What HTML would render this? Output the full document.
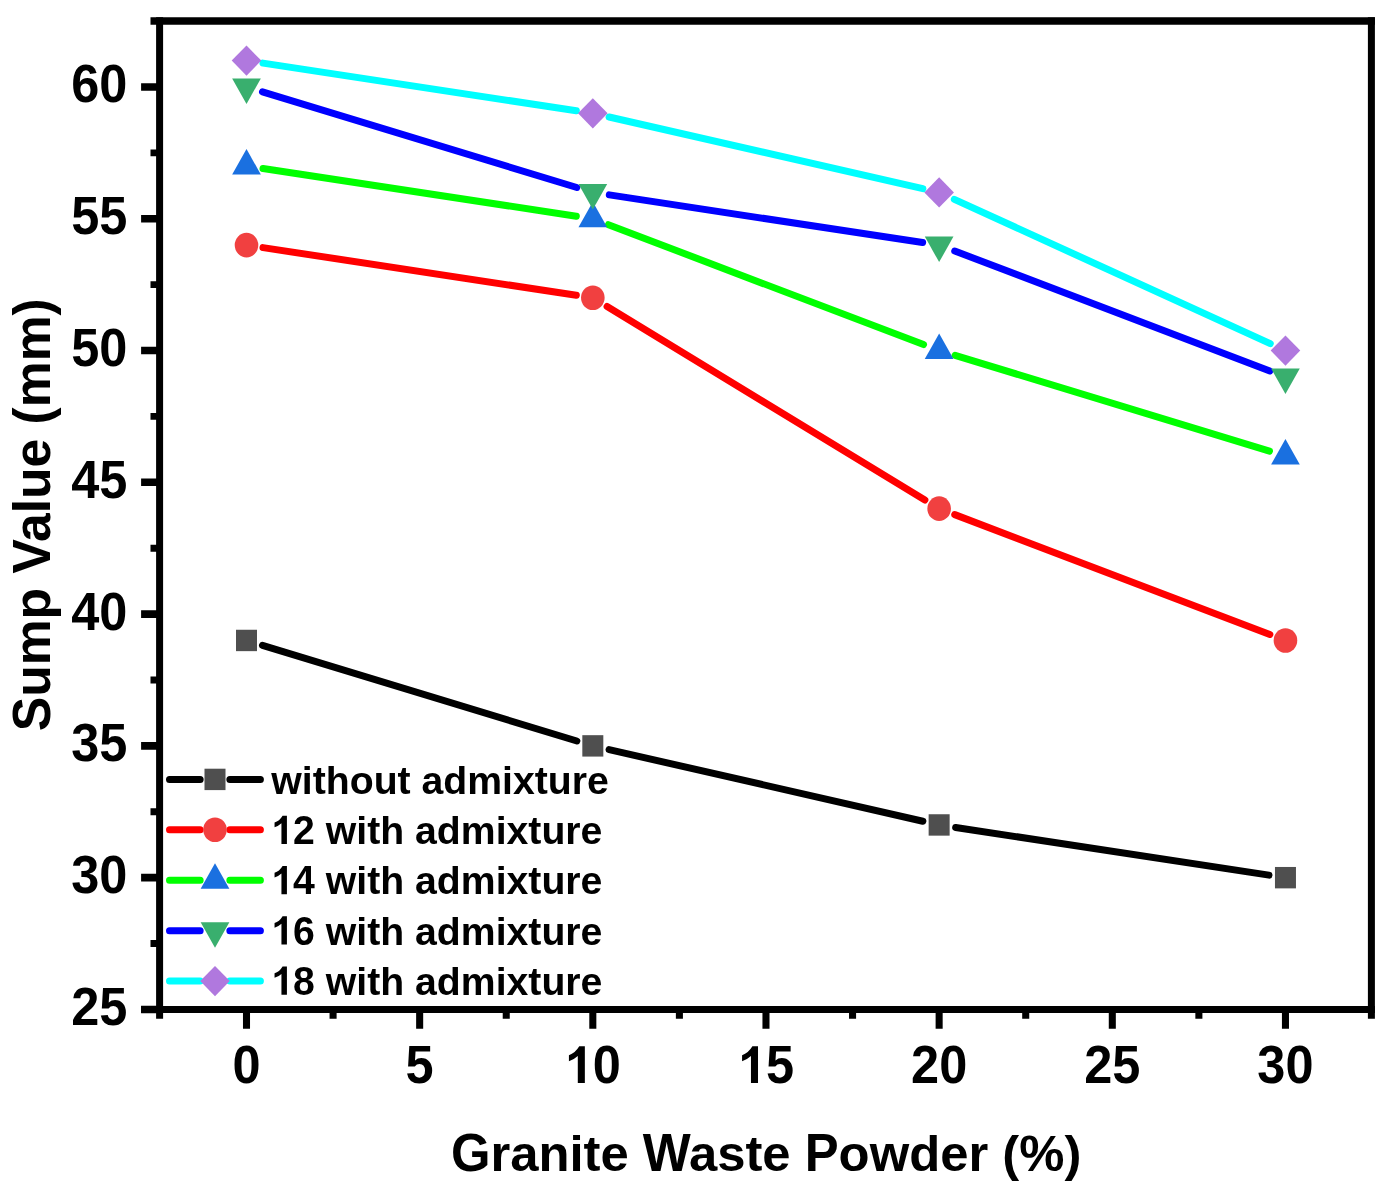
<!DOCTYPE html>
<html><head><meta charset="utf-8"><title>Sump Value chart</title>
<style>html,body{margin:0;padding:0;background:#fff;width:1400px;height:1202px;overflow:hidden;font-family:"Liberation Sans",sans-serif;}</style>
</head><body>
<svg width="1400" height="1202" viewBox="0 0 1400 1202" style="display:block;will-change:transform">
<rect width="1400" height="1202" fill="#fff"/>
<path d="M262.48 645.32L576.84 741.02M609.10 749.60L922.86 821.23M955.65 827.46L1268.95 875.15" stroke="#000000" stroke-width="7.0" stroke-linecap="round" fill="none"/>
<path d="M263.01 247.61L576.31 295.30M607.08 306.50L924.88 499.98M954.75 514.61L1269.85 634.51" stroke="#FF0000" stroke-width="7.0" stroke-linecap="round" fill="none"/>
<path d="M263.01 168.54L576.31 216.23M608.43 224.68L923.53 344.59M955.12 355.39L1269.48 451.09" stroke="#00FF00" stroke-width="7.0" stroke-linecap="round" fill="none"/>
<path d="M262.48 91.82L576.84 187.52M609.33 194.90L922.63 242.58M954.75 251.04L1269.85 370.94" stroke="#0000FF" stroke-width="7.0" stroke-linecap="round" fill="none"/>
<path d="M263.01 63.11L576.31 110.80M609.10 117.03L922.86 188.67M954.33 199.32L1270.27 343.59" stroke="#00FFFF" stroke-width="7.0" stroke-linecap="round" fill="none"/>
<rect x="236.00" y="629.75" width="21.0" height="21.4" fill="#4F4F4F"/>
<rect x="582.32" y="735.18" width="21.0" height="21.4" fill="#4F4F4F"/>
<rect x="928.64" y="814.25" width="21.0" height="21.4" fill="#4F4F4F"/>
<rect x="1274.96" y="866.97" width="21.0" height="21.4" fill="#4F4F4F"/>
<ellipse cx="246.50" cy="245.10" rx="11.8" ry="12.3" fill="#F14040"/>
<ellipse cx="592.82" cy="297.81" rx="11.8" ry="12.3" fill="#F14040"/>
<ellipse cx="939.14" cy="508.67" rx="11.8" ry="12.3" fill="#F14040"/>
<ellipse cx="1285.46" cy="640.45" rx="11.8" ry="12.3" fill="#F14040"/>
<path d="M246.50 149.03L260.85 174.53L232.15 174.53Z" fill="#1A70E0"/>
<path d="M592.82 201.74L607.17 227.24L578.47 227.24Z" fill="#1A70E0"/>
<path d="M939.14 333.53L953.49 359.03L924.79 359.03Z" fill="#1A70E0"/>
<path d="M1285.46 438.95L1299.81 464.45L1271.11 464.45Z" fill="#1A70E0"/>
<path d="M232.15 78.46L260.85 78.46L246.50 103.96Z" fill="#39AF6E"/>
<path d="M578.47 183.88L607.17 183.88L592.82 209.38Z" fill="#39AF6E"/>
<path d="M924.79 236.60L953.49 236.60L939.14 262.10Z" fill="#39AF6E"/>
<path d="M1271.11 368.38L1299.81 368.38L1285.46 393.88Z" fill="#39AF6E"/>
<path d="M246.50 45.50L261.30 60.60L246.50 75.70L231.70 60.60Z" fill="#B078DE"/>
<path d="M592.82 98.21L607.62 113.31L592.82 128.41L578.02 113.31Z" fill="#B078DE"/>
<path d="M939.14 177.28L953.94 192.38L939.14 207.48L924.34 192.38Z" fill="#B078DE"/>
<path d="M1285.46 335.43L1300.26 350.53L1285.46 365.63L1270.66 350.53Z" fill="#B078DE"/>
<g font-family="'Liberation Sans', sans-serif" font-weight="bold" fill="#000">
<path d="M169.5 779.40H200.15M229.85 779.40H260.4" stroke="#000000" stroke-width="7.0" stroke-linecap="round"/>
<rect x="204.50" y="768.70" width="21.0" height="21.4" fill="#4F4F4F"/>
<text transform="translate(271.30,793.90) translate(0.00,0)" font-size="39.2">w</text>
<text transform="translate(271.30,793.90) translate(30.49,0)" font-size="39.2">i</text>
<text transform="translate(271.30,793.90) translate(41.38,0)" font-size="39.2">t</text>
<text transform="translate(271.30,793.90) translate(54.44,0)" font-size="39.2">h</text>
<text transform="translate(271.30,793.90) translate(78.38,0)" font-size="39.2">o</text>
<text transform="translate(271.30,793.90) translate(102.33,0)" font-size="39.2">u</text>
<text transform="translate(271.30,793.90) translate(126.27,0)" font-size="39.2">t</text>
<text transform="translate(271.30,793.90) translate(150.22,0)" font-size="39.2">a</text>
<text transform="translate(271.30,793.90) translate(172.02,0)" font-size="39.2">d</text>
<text transform="translate(271.30,793.90) translate(195.96,0)" font-size="39.2">m</text>
<text transform="translate(271.30,793.90) translate(230.82,0)" font-size="39.2">i</text>
<text transform="translate(271.30,793.90) translate(241.71,0)" font-size="39.2">x</text>
<text transform="translate(271.30,793.90) translate(263.51,0)" font-size="39.2">t</text>
<text transform="translate(271.30,793.90) translate(276.56,0)" font-size="39.2">u</text>
<text transform="translate(271.30,793.90) translate(300.51,0)" font-size="39.2">r</text>
<text transform="translate(271.30,793.90) translate(315.76,0)" font-size="39.2">e</text>
<path d="M169.5 829.82H200.15M229.85 829.82H260.4" stroke="#FF0000" stroke-width="7.0" stroke-linecap="round"/>
<ellipse cx="215.00" cy="829.82" rx="11.8" ry="12.3" fill="#F14040"/>
<path transform="translate(271.30,844.10) translate(0.00,0) scale(0.019141,-0.020098)" d="M816 0L816 1409L589 1409Q420 1140 170 1069L170 838Q380 900 530 1035L530 0Z"/>
<text transform="translate(271.30,844.10) translate(21.80,0) scale(1,1.05)" font-size="39.2">2</text>
<text transform="translate(271.30,844.10) translate(54.49,0)" font-size="39.2">w</text>
<text transform="translate(271.30,844.10) translate(84.98,0)" font-size="39.2">i</text>
<text transform="translate(271.30,844.10) translate(95.88,0)" font-size="39.2">t</text>
<text transform="translate(271.30,844.10) translate(108.93,0)" font-size="39.2">h</text>
<text transform="translate(271.30,844.10) translate(143.77,0)" font-size="39.2">a</text>
<text transform="translate(271.30,844.10) translate(165.57,0)" font-size="39.2">d</text>
<text transform="translate(271.30,844.10) translate(189.51,0)" font-size="39.2">m</text>
<text transform="translate(271.30,844.10) translate(224.37,0)" font-size="39.2">i</text>
<text transform="translate(271.30,844.10) translate(235.26,0)" font-size="39.2">x</text>
<text transform="translate(271.30,844.10) translate(257.06,0)" font-size="39.2">t</text>
<text transform="translate(271.30,844.10) translate(270.11,0)" font-size="39.2">u</text>
<text transform="translate(271.30,844.10) translate(294.06,0)" font-size="39.2">r</text>
<text transform="translate(271.30,844.10) translate(309.31,0)" font-size="39.2">e</text>
<path d="M169.5 880.24H200.15M229.85 880.24H260.4" stroke="#00FF00" stroke-width="7.0" stroke-linecap="round"/>
<path d="M215.00 863.24L229.35 888.74L200.65 888.74Z" fill="#1A70E0"/>
<path transform="translate(271.30,894.30) translate(0.00,0) scale(0.019141,-0.020098)" d="M816 0L816 1409L589 1409Q420 1140 170 1069L170 838Q380 900 530 1035L530 0Z"/>
<text transform="translate(271.30,894.30) translate(21.80,0) scale(1,1.05)" font-size="39.2">4</text>
<text transform="translate(271.30,894.30) translate(54.49,0)" font-size="39.2">w</text>
<text transform="translate(271.30,894.30) translate(84.98,0)" font-size="39.2">i</text>
<text transform="translate(271.30,894.30) translate(95.88,0)" font-size="39.2">t</text>
<text transform="translate(271.30,894.30) translate(108.93,0)" font-size="39.2">h</text>
<text transform="translate(271.30,894.30) translate(143.77,0)" font-size="39.2">a</text>
<text transform="translate(271.30,894.30) translate(165.57,0)" font-size="39.2">d</text>
<text transform="translate(271.30,894.30) translate(189.51,0)" font-size="39.2">m</text>
<text transform="translate(271.30,894.30) translate(224.37,0)" font-size="39.2">i</text>
<text transform="translate(271.30,894.30) translate(235.26,0)" font-size="39.2">x</text>
<text transform="translate(271.30,894.30) translate(257.06,0)" font-size="39.2">t</text>
<text transform="translate(271.30,894.30) translate(270.11,0)" font-size="39.2">u</text>
<text transform="translate(271.30,894.30) translate(294.06,0)" font-size="39.2">r</text>
<text transform="translate(271.30,894.30) translate(309.31,0)" font-size="39.2">e</text>
<path d="M169.5 930.66H200.15M229.85 930.66H260.4" stroke="#0000FF" stroke-width="7.0" stroke-linecap="round"/>
<path d="M200.65 922.16L229.35 922.16L215.00 947.66Z" fill="#39AF6E"/>
<path transform="translate(271.30,944.50) translate(0.00,0) scale(0.019141,-0.020098)" d="M816 0L816 1409L589 1409Q420 1140 170 1069L170 838Q380 900 530 1035L530 0Z"/>
<text transform="translate(271.30,944.50) translate(21.80,0) scale(1,1.05)" font-size="39.2">6</text>
<text transform="translate(271.30,944.50) translate(54.49,0)" font-size="39.2">w</text>
<text transform="translate(271.30,944.50) translate(84.98,0)" font-size="39.2">i</text>
<text transform="translate(271.30,944.50) translate(95.88,0)" font-size="39.2">t</text>
<text transform="translate(271.30,944.50) translate(108.93,0)" font-size="39.2">h</text>
<text transform="translate(271.30,944.50) translate(143.77,0)" font-size="39.2">a</text>
<text transform="translate(271.30,944.50) translate(165.57,0)" font-size="39.2">d</text>
<text transform="translate(271.30,944.50) translate(189.51,0)" font-size="39.2">m</text>
<text transform="translate(271.30,944.50) translate(224.37,0)" font-size="39.2">i</text>
<text transform="translate(271.30,944.50) translate(235.26,0)" font-size="39.2">x</text>
<text transform="translate(271.30,944.50) translate(257.06,0)" font-size="39.2">t</text>
<text transform="translate(271.30,944.50) translate(270.11,0)" font-size="39.2">u</text>
<text transform="translate(271.30,944.50) translate(294.06,0)" font-size="39.2">r</text>
<text transform="translate(271.30,944.50) translate(309.31,0)" font-size="39.2">e</text>
<path d="M169.5 981.08H200.15M229.85 981.08H260.4" stroke="#00FFFF" stroke-width="7.0" stroke-linecap="round"/>
<path d="M215.00 965.98L229.80 981.08L215.00 996.18L200.20 981.08Z" fill="#B078DE"/>
<path transform="translate(271.30,994.70) translate(0.00,0) scale(0.019141,-0.020098)" d="M816 0L816 1409L589 1409Q420 1140 170 1069L170 838Q380 900 530 1035L530 0Z"/>
<text transform="translate(271.30,994.70) translate(21.80,0) scale(1,1.05)" font-size="39.2">8</text>
<text transform="translate(271.30,994.70) translate(54.49,0)" font-size="39.2">w</text>
<text transform="translate(271.30,994.70) translate(84.98,0)" font-size="39.2">i</text>
<text transform="translate(271.30,994.70) translate(95.88,0)" font-size="39.2">t</text>
<text transform="translate(271.30,994.70) translate(108.93,0)" font-size="39.2">h</text>
<text transform="translate(271.30,994.70) translate(143.77,0)" font-size="39.2">a</text>
<text transform="translate(271.30,994.70) translate(165.57,0)" font-size="39.2">d</text>
<text transform="translate(271.30,994.70) translate(189.51,0)" font-size="39.2">m</text>
<text transform="translate(271.30,994.70) translate(224.37,0)" font-size="39.2">i</text>
<text transform="translate(271.30,994.70) translate(235.26,0)" font-size="39.2">x</text>
<text transform="translate(271.30,994.70) translate(257.06,0)" font-size="39.2">t</text>
<text transform="translate(271.30,994.70) translate(270.11,0)" font-size="39.2">u</text>
<text transform="translate(271.30,994.70) translate(294.06,0)" font-size="39.2">r</text>
<text transform="translate(271.30,994.70) translate(309.31,0)" font-size="39.2">e</text>
</g>
<path d="M150.5 21.0H1374.9" stroke="#000" stroke-width="7.6"/>
<path d="M141.1 1009.45H1374.9" stroke="#000" stroke-width="7.0"/>
<path d="M159.6 17.2V1018.7M1371.4 17.2V1018.7" stroke="#000" stroke-width="7.0"/>
<path d="M141.1 1009.45H159.6M141.1 877.67H159.6M141.1 745.88H159.6M141.1 614.10H159.6M141.1 482.31H159.6M141.1 350.53H159.6M141.1 218.74H159.6M141.1 86.96H159.6" stroke="#000" stroke-width="7.6"/>
<path d="M150.5 943.56H159.6M150.5 811.77H159.6M150.5 679.99H159.6M150.5 548.20H159.6M150.5 416.42H159.6M150.5 284.63H159.6M150.5 152.85H159.6" stroke="#000" stroke-width="6.9"/>
<path d="M246.50 1009.45V1028.8M333.08 1009.45V1018.7M419.66 1009.45V1028.8M506.24 1009.45V1018.7M592.82 1009.45V1028.8M679.40 1009.45V1018.7M765.98 1009.45V1028.8M852.56 1009.45V1018.7M939.14 1009.45V1028.8M1025.72 1009.45V1018.7M1112.30 1009.45V1028.8M1198.88 1009.45V1018.7M1285.46 1009.45V1028.8" stroke="#000" stroke-width="7.05"/>
<g font-family="'Liberation Sans', sans-serif" font-weight="bold" fill="#000">
<text transform="translate(127.30,1024.85) translate(-56.17,0) scale(1,1.055)" font-size="50.5">2</text>
<text transform="translate(127.30,1024.85) translate(-28.09,0) scale(1,1.055)" font-size="50.5">5</text>
<text transform="translate(127.30,893.07) translate(-56.17,0) scale(1,1.055)" font-size="50.5">3</text>
<text transform="translate(127.30,893.07) translate(-28.09,0) scale(1,1.055)" font-size="50.5">0</text>
<text transform="translate(127.30,761.28) translate(-56.17,0) scale(1,1.055)" font-size="50.5">3</text>
<text transform="translate(127.30,761.28) translate(-28.09,0) scale(1,1.055)" font-size="50.5">5</text>
<text transform="translate(127.30,629.50) translate(-56.17,0) scale(1,1.055)" font-size="50.5">4</text>
<text transform="translate(127.30,629.50) translate(-28.09,0) scale(1,1.055)" font-size="50.5">0</text>
<text transform="translate(127.30,497.71) translate(-56.17,0) scale(1,1.055)" font-size="50.5">4</text>
<text transform="translate(127.30,497.71) translate(-28.09,0) scale(1,1.055)" font-size="50.5">5</text>
<text transform="translate(127.30,365.93) translate(-56.17,0) scale(1,1.055)" font-size="50.5">5</text>
<text transform="translate(127.30,365.93) translate(-28.09,0) scale(1,1.055)" font-size="50.5">0</text>
<text transform="translate(127.30,234.14) translate(-56.17,0) scale(1,1.055)" font-size="50.5">5</text>
<text transform="translate(127.30,234.14) translate(-28.09,0) scale(1,1.055)" font-size="50.5">5</text>
<text transform="translate(127.30,102.36) translate(-56.17,0) scale(1,1.055)" font-size="50.5">6</text>
<text transform="translate(127.30,102.36) translate(-28.09,0) scale(1,1.055)" font-size="50.5">0</text>
<text transform="translate(246.50,1083.00) translate(-14.04,0) scale(1,1.055)" font-size="50.5">0</text>
<text transform="translate(419.66,1083.00) translate(-14.04,0) scale(1,1.055)" font-size="50.5">5</text>
<path transform="translate(592.82,1083.00) translate(-28.09,0) scale(0.024658,-0.026014)" d="M816 0L816 1409L589 1409Q420 1140 170 1069L170 838Q380 900 530 1035L530 0Z"/>
<text transform="translate(592.82,1083.00) translate(0.00,0) scale(1,1.055)" font-size="50.5">0</text>
<path transform="translate(765.98,1083.00) translate(-28.09,0) scale(0.024658,-0.026014)" d="M816 0L816 1409L589 1409Q420 1140 170 1069L170 838Q380 900 530 1035L530 0Z"/>
<text transform="translate(765.98,1083.00) translate(0.00,0) scale(1,1.055)" font-size="50.5">5</text>
<text transform="translate(939.14,1083.00) translate(-28.09,0) scale(1,1.055)" font-size="50.5">2</text>
<text transform="translate(939.14,1083.00) translate(0.00,0) scale(1,1.055)" font-size="50.5">0</text>
<text transform="translate(1112.30,1083.00) translate(-28.09,0) scale(1,1.055)" font-size="50.5">2</text>
<text transform="translate(1112.30,1083.00) translate(0.00,0) scale(1,1.055)" font-size="50.5">5</text>
<text transform="translate(1285.46,1083.00) translate(-28.09,0) scale(1,1.055)" font-size="50.5">3</text>
<text transform="translate(1285.46,1083.00) translate(0.00,0) scale(1,1.055)" font-size="50.5">0</text>
<text transform="translate(450.90,1170.50) translate(0.00,0) scale(1,1.04)" font-size="50.8">G</text>
<text transform="translate(450.90,1170.50) translate(39.51,0)" font-size="50.8">r</text>
<text transform="translate(450.90,1170.50) translate(59.28,0)" font-size="50.8">a</text>
<text transform="translate(450.90,1170.50) translate(87.54,0)" font-size="50.8">n</text>
<text transform="translate(450.90,1170.50) translate(118.57,0)" font-size="50.8">i</text>
<text transform="translate(450.90,1170.50) translate(132.68,0)" font-size="50.8">t</text>
<text transform="translate(450.90,1170.50) translate(149.60,0)" font-size="50.8">e</text>
<text transform="translate(450.90,1170.50) translate(191.96,0) scale(1,1.04)" font-size="50.8">W</text>
<text transform="translate(450.90,1170.50) translate(238.03,0)" font-size="50.8">a</text>
<text transform="translate(450.90,1170.50) translate(266.28,0)" font-size="50.8">s</text>
<text transform="translate(450.90,1170.50) translate(294.53,0)" font-size="50.8">t</text>
<text transform="translate(450.90,1170.50) translate(311.45,0)" font-size="50.8">e</text>
<text transform="translate(450.90,1170.50) translate(353.81,0) scale(1,1.04)" font-size="50.8">P</text>
<text transform="translate(450.90,1170.50) translate(387.70,0)" font-size="50.8">o</text>
<text transform="translate(450.90,1170.50) translate(418.73,0)" font-size="50.8">w</text>
<text transform="translate(450.90,1170.50) translate(458.24,0)" font-size="50.8">d</text>
<text transform="translate(450.90,1170.50) translate(489.27,0)" font-size="50.8">e</text>
<text transform="translate(450.90,1170.50) translate(517.52,0)" font-size="50.8">r</text>
<text transform="translate(450.90,1170.50) translate(551.41,0)" font-size="50.8">(</text>
<text transform="translate(450.90,1170.50) translate(568.32,0)" font-size="50.8">%</text>
<text transform="translate(450.90,1170.50) translate(613.49,0)" font-size="50.8">)</text>
<text transform="translate(50.10,731.25) rotate(-90) translate(0.00,0) scale(1,1.04)" font-size="51.6">S</text>
<text transform="translate(50.10,731.25) rotate(-90) translate(34.42,0)" font-size="51.6">u</text>
<text transform="translate(50.10,731.25) rotate(-90) translate(65.94,0)" font-size="51.6">m</text>
<text transform="translate(50.10,731.25) rotate(-90) translate(111.82,0)" font-size="51.6">p</text>
<text transform="translate(50.10,731.25) rotate(-90) translate(157.67,0) scale(1,1.04)" font-size="51.6">V</text>
<text transform="translate(50.10,731.25) rotate(-90) translate(189.24,0)" font-size="51.6">a</text>
<text transform="translate(50.10,731.25) rotate(-90) translate(217.94,0)" font-size="51.6">l</text>
<text transform="translate(50.10,731.25) rotate(-90) translate(232.28,0)" font-size="51.6">u</text>
<text transform="translate(50.10,731.25) rotate(-90) translate(263.79,0)" font-size="51.6">e</text>
<text transform="translate(50.10,731.25) rotate(-90) translate(306.83,0)" font-size="51.6">(</text>
<text transform="translate(50.10,731.25) rotate(-90) translate(324.01,0)" font-size="51.6">m</text>
<text transform="translate(50.10,731.25) rotate(-90) translate(369.89,0)" font-size="51.6">m</text>
<text transform="translate(50.10,731.25) rotate(-90) translate(415.77,0)" font-size="51.6">)</text>
</g>
</svg>
</body></html>
